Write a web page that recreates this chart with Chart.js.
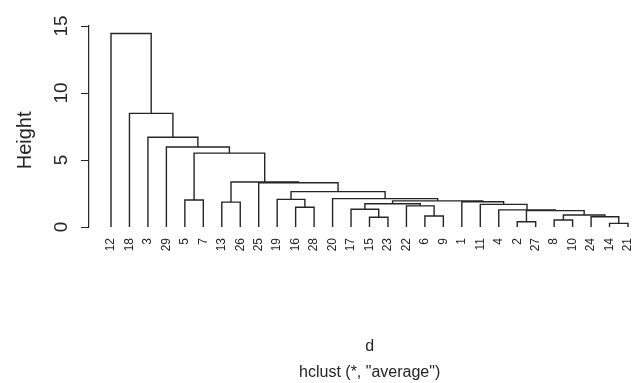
<!DOCTYPE html>
<html>
<head>
<meta charset="utf-8">
<script src="https://cdn.jsdelivr.net/npm/chart.js@4.4.1/dist/chart.umd.min.js"></script>
<style>
  html, body { margin: 0; padding: 0; background: #fff; }
  #wrap { width: 637px; height: 383px; }
</style>
</head>
<body>
<div id="wrap"><canvas id="dendro" width="637" height="383"></canvas></div>
<script>
// leaves from left to right, as printed under the tree
const leafOrder = [12, 18, 3, 29, 5, 7, 13, 26, 25, 19, 16, 28, 20, 17, 15, 23, 22, 6, 9, 1, 11, 4, 2, 27, 8, 10, 24, 14, 21];

// merge steps, R style: negative = observation, positive = earlier step
const mergeA = [-14, -2, -8, -15, -24, -6, 3, 2, -4, -17, -16, -22, -11, 10, -13, -1, 14, -5, -19, -20, 19, -25, 15, 18, -29, -3, -18, -12];
const mergeB = [-21, -27, -10, -23, 1, -9, 5, 7, 8, 4, -28, 6, 9, 12, -26, 13, 16, -7, 11, 17, 20, 21, 22, 23, 24, 25, 26, 27];
const mergeHeight = [0.27, 0.39, 0.52, 0.73, 0.77, 0.82, 0.90, 1.22, 1.28, 1.32, 1.47, 1.58, 1.69, 1.73, 1.86, 1.88, 1.95, 2.02, 2.06, 2.12, 2.64, 3.30, 3.36, 5.51, 5.97, 6.70, 8.48, 14.44];

const heightTicks = [0, 5, 10, 15];

const ink = '#252525';
Chart.defaults.font.family = '"Liberation Sans", Arial, sans-serif';
Chart.defaults.color = ink;

// each step is drawn as a little "n": up from child a, across, down to child b
const nodes = [];
const pos = (ref) => ref < 0 ? { x: leafOrder.indexOf(-ref), y: 0 } : nodes[ref - 1];
const datasets = [];
mergeHeight.forEach((h, k) => {
  const a = pos(mergeA[k]);
  const b = pos(mergeB[k]);
  nodes.push({ x: (a.x + b.x) / 2, y: h });
  datasets.push({
    data: [{ x: a.x, y: a.y }, { x: a.x, y: h }, { x: b.x, y: h }, { x: b.x, y: b.y }],
    showLine: true,
    borderColor: ink,
    borderWidth: 1.4,
    pointRadius: 0,
    fill: false
  });
});

new Chart(document.getElementById('dendro').getContext('2d'), {
  type: 'scatter',
  data: { datasets: datasets },
  options: {
    responsive: false,
    animation: false,
    devicePixelRatio: 1,
    layout: { padding: { top: 26, right: 0, bottom: 0, left: 0 } },
    plugins: {
      legend: { display: false },
      tooltip: { enabled: false }
    },
    scales: {
      x: {
        type: 'linear',
        min: -1.191,
        max: 28.487,
        afterBuildTicks: (s) => { s.ticks = leafOrder.map((_, i) => ({ value: i })); },
        afterFit: (s) => { s.height = 156; s.paddingLeft = 0; s.paddingRight = 0; },
        grid: { display: false, drawTicks: false },
        border: { display: false },
        ticks: {
          autoSkip: false,
          minRotation: 90,
          maxRotation: 90,
          padding: 11,
          font: { size: 12 },
          callback: (v) => String(leafOrder[v])
        },
        // leading spaces nudge the captions onto the centre of the leaves, as in R
        title: {
          display: true,
          text: ['   d', '   hclust (*, "average")'],
          font: { size: 16, lineHeight: 1.6 },
          padding: { top: 0, bottom: -2 }
        }
      },
      y: {
        min: 0,
        max: 15,
        afterBuildTicks: (s) => { s.ticks = heightTicks.map(v => ({ value: v })); },
        afterFit: (s) => { s.width = 89; s.paddingTop = 0; s.paddingBottom = 0; },
        grid: { drawOnChartArea: false, drawTicks: true, tickLength: 8, tickColor: ink, color: ink },
        border: { display: true, color: ink, width: 1.2 },
        ticks: { minRotation: 90, maxRotation: 90, crossAlign: 'center', padding: 9, font: { size: 19 } },
        title: { display: true, text: 'Height     ', font: { size: 20 }, padding: { top: 13, bottom: 0 } }
      }
    }
  }
});
</script>
</body>
</html>
